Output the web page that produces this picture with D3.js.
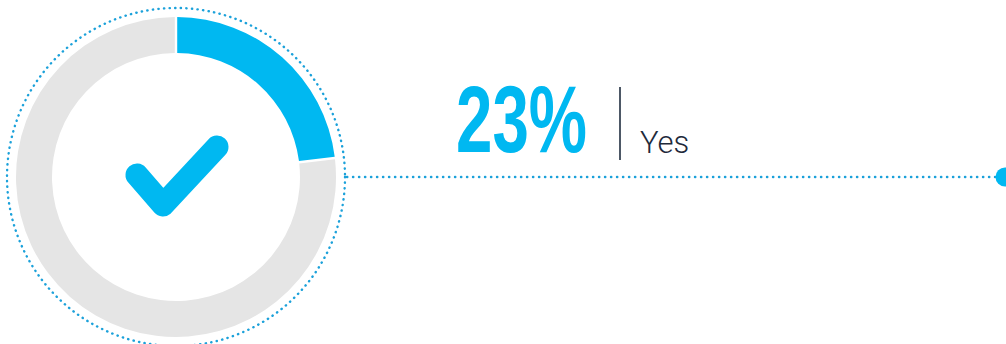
<!DOCTYPE html>
<meta charset="utf-8">
<style>
body { margin: 0; background: #fff; }
svg { display: block; }
</style>
<svg width="1006" height="344"></svg>
<script src="https://d3js.org/d3.v7.min.js"></script>
<script>

// data
var labels = ["Yes", "No"];
var values = [23, 77];
var colours = ["#00b8f1", "#e5e5e5"];

var svg = d3.select("svg"),
    width = +svg.attr("width"),
    height = +svg.attr("height");

var cx = 176, cy = 177;
var outerR = 160, innerR = 124, ringR = 169;
var blue = "#00b8f1", dotBlue = "#1ba1da";

var g = svg.append("g").attr("transform", "translate(" + cx + "," + cy + ")");

var pie = d3.pie().sort(null).padAngle(0.012);
var arc = d3.arc().innerRadius(innerR).outerRadius(outerR);

g.selectAll("path.slice")
  .data(pie(values))
  .enter().append("path")
  .attr("class", "slice")
  .attr("d", arc)
  .style("fill", function(d, i) { return colours[i]; });

// dotted ring
g.append("circle")
  .attr("r", ringR)
  .style("fill", "none")
  .style("stroke", dotBlue)
  .style("stroke-width", 2.4)
  .style("stroke-linecap", "round")
  .style("stroke-dasharray", "0.3 5.3");

// check mark
var check = [[-39, -2], [-13, 28], [41, -30]];
g.append("path")
  .attr("d", d3.line()(check))
  .style("fill", "none")
  .style("stroke", blue)
  .style("stroke-width", 23)
  .style("stroke-linecap", "round")
  .style("stroke-linejoin", "round");

// connector line
svg.append("line")
  .attr("x1", cx + ringR + 2).attr("y1", cy)
  .attr("x2", 998).attr("y2", cy)
  .style("stroke", dotBlue)
  .style("stroke-width", 2.4)
  .style("stroke-linecap", "round")
  .style("stroke-dasharray", "0.3 5.7");

svg.append("circle")
  .attr("cx", 1005).attr("cy", cy).attr("r", 9.5)
  .style("fill", blue);

// label
svg.append("text")
  .attr("x", 456).attr("y", 152)
  .attr("textLength", 131)
  .attr("lengthAdjust", "spacingAndGlyphs")
  .style("font-family", "'Liberation Sans Narrow', 'Liberation Sans', sans-serif")
  .style("font-weight", "bold")
  .style("font-size", "94px")
  .style("fill", blue)
  .text(values[0] + "%");

svg.append("line")
  .attr("x1", 620).attr("y1", 87)
  .attr("x2", 620).attr("y2", 160)
  .style("stroke", "#4d5866")
  .style("stroke-width", 2);

svg.append("text")
  .attr("x", 640).attr("y", 153)
  .style("font-family", "Roboto, 'Liberation Sans', sans-serif")
  .style("font-weight", 300)
  .style("font-size", "31px")
  .style("fill", "#1e2a3b")
  .text(labels[0]);

</script>
